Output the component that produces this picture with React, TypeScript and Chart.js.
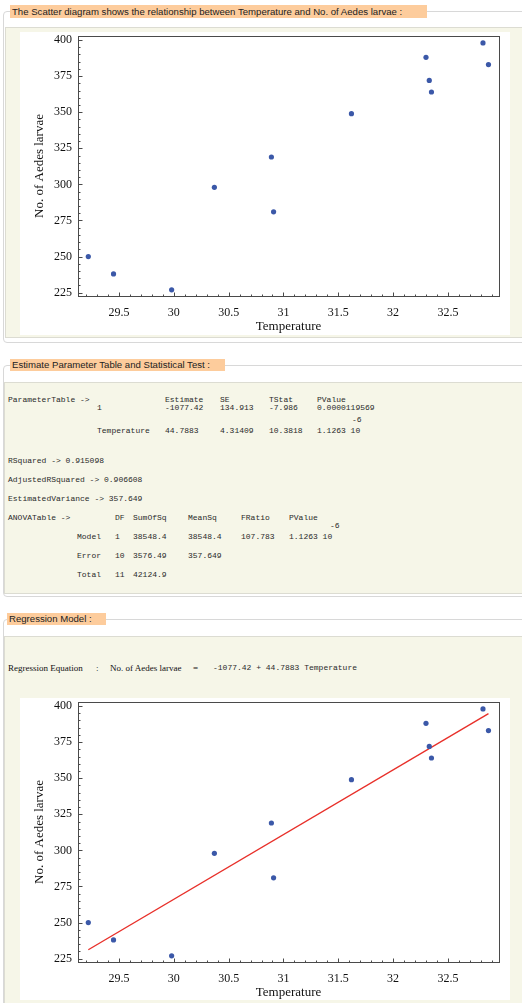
import React, { useEffect, useRef } from "react";
import { Chart, registerables } from "chart.js";

Chart.register(...registerables);

// ---- data ----
const TEMPERATURE = [29.22, 29.45, 29.98, 30.37, 30.89, 30.91, 31.62, 32.3, 32.33, 32.35, 32.82, 32.87];
const LARVAE = [250, 238, 227, 298, 319, 281, 349, 388, 372, 364, 398, 383];
const FIT_TEMP = [29.22, 32.87];
const FIT_LARVAE = [231.2, 394.8];

const X_TICKS = [29.5, 30, 30.5, 31, 31.5, 32, 32.5];
const Y_TICKS = [225, 250, 275, 300, 325, 350, 375, 400];
const X_MINOR = [29.2, 29.3, 29.4, 29.6, 29.7, 29.8, 29.9, 30.1, 30.2, 30.3, 30.4, 30.6, 30.7, 30.8, 30.9, 31.1, 31.2, 31.3, 31.4, 31.6, 31.7, 31.8, 31.9, 32.1, 32.2, 32.3, 32.4, 32.6, 32.7, 32.8, 32.9];
const Y_MINOR = [230, 235, 240, 245, 255, 260, 265, 270, 280, 285, 290, 295, 305, 310, 315, 320, 330, 335, 340, 345, 355, 360, 365, 370, 380, 385, 390, 395];

const X_TITLE = "Temperature";
const Y_TITLE = "No. of Aedes larvae";

const HEADING_1 = "The Scatter diagram shows the relationship between Temperature and No. of Aedes larvae :";
const HEADING_2 = "Estimate Parameter Table and Statistical Test :";
const HEADING_3 = "Regression Model :";

const PARAM_HEADER = ["Estimate", "SE", "TStat", "PValue"];
const PARAM_ROWS = [
  ["1", "-1077.42", "134.913", "-7.986", "0.0000119569"],
  ["Temperature", "44.7883", "4.31409", "10.3818", "1.1263 10"],
];
const STATS = ["RSquared -> 0.915098", "AdjustedRSquared -> 0.906608", "EstimatedVariance -> 357.649"];
const ANOVA_HEADER = ["DF", "SumOfSq", "MeanSq", "FRatio", "PValue"];
const ANOVA_ROWS = [
  ["Model", "1", "38548.4", "38548.4", "107.783", "1.1263 10"],
  ["Error", "10", "3576.49", "357.649"],
  ["Total", "11", "42124.9"],
];

// ---- styles ----
const BEIGE = "#f6f6e8";
const PEACH = "#fdcc9c";
const POINT_COLOR = "#3b58a8";
const LINE_COLOR = "#e8302a";
const MONO = "'Liberation Mono', 'Courier New', monospace";
const SERIF = "'Liberation Serif', 'Times New Roman', serif";
const SANS = "'Liberation Sans', Arial, sans-serif";

const framePlugin = {
  id: "frameTicks",
  beforeDatasetsDraw(chart: any) {
    const { ctx, chartArea, scales } = chart;
    const { left, right, top, bottom } = chartArea;
    const xs = scales.x;
    const ys = scales.y;
    ctx.save();
    ctx.strokeStyle = "#4a4a4a";
    ctx.lineWidth = 1;
    ctx.strokeRect(Math.round(left) + 0.5, Math.round(top) + 0.5, Math.round(right - left), Math.round(bottom - top));
    ctx.beginPath();
    const L = Math.round(left) + 0.5;
    const B = Math.round(bottom) + 0.5;
    X_TICKS.forEach((v) => {
      const px = Math.round(xs.getPixelForValue(v)) + 0.5;
      ctx.moveTo(px, B);
      ctx.lineTo(px, B - 4);
    });
    X_MINOR.forEach((v) => {
      const px = Math.round(xs.getPixelForValue(v)) + 0.5;
      ctx.moveTo(px, B);
      ctx.lineTo(px, B - 2);
    });
    Y_TICKS.forEach((v) => {
      const py = Math.round(ys.getPixelForValue(v)) + 0.5;
      ctx.moveTo(L, py);
      ctx.lineTo(L + 4, py);
    });
    Y_MINOR.forEach((v) => {
      const py = Math.round(ys.getPixelForValue(v)) + 0.5;
      ctx.moveTo(L, py);
      ctx.lineTo(L + 2, py);
    });
    ctx.stroke();
    ctx.restore();
  },
};

const zeroPadding = (s: any) => {
  s.paddingTop = 0;
  s.paddingBottom = 0;
  s.paddingLeft = 0;
  s.paddingRight = 0;
};

function ScatterChart({ withFit }: { withFit: boolean }) {
  const ref = useRef<HTMLCanvasElement>(null);
  useEffect(() => {
    const datasets: any[] = [
      {
        type: "scatter",
        data: TEMPERATURE.map((t, i) => ({ x: t, y: LARVAE[i] })),
        pointRadius: 2.6,
        pointBackgroundColor: POINT_COLOR,
        pointBorderWidth: 0,
        order: 0,
      },
    ];
    if (withFit) {
      datasets.push({
        type: "line",
        data: FIT_TEMP.map((t, i) => ({ x: t, y: FIT_LARVAE[i] })),
        borderColor: LINE_COLOR,
        borderWidth: 1.4,
        pointRadius: 0,
        fill: false,
        order: 1,
      });
    }
    const chart = new Chart(ref.current!, {
      type: "scatter",
      data: { datasets },
      options: {
        animation: false,
        responsive: false,
        devicePixelRatio: 1,
        layout: { autoPadding: false, padding: { left: 0, right: 11, top: 4, bottom: 0 } },
        plugins: { legend: { display: false }, tooltip: { enabled: false } },
        scales: {
          x: {
            type: "linear",
            min: 29.126,
            max: 32.966,
            afterBuildTicks: (s: any) => {
              s.ticks = X_TICKS.map((v) => ({ value: v }));
            },
            afterFit: (s: any) => {
              s.height = 39;
              zeroPadding(s);
            },
            grid: { display: false, drawTicks: false },
            border: { display: false },
            ticks: {
              padding: 10,
              color: "#111",
              font: { family: SERIF, size: 12 },
              maxRotation: 0,
              autoSkip: false,
              callback: (v: any) => String(v),
            },
            title: {
              display: true,
              text: X_TITLE,
              color: "#111",
              font: { family: SERIF, size: 13 },
              padding: { top: 0, bottom: 1 },
            },
          },
          y: {
            type: "linear",
            min: 222.7,
            max: 402.8,
            afterBuildTicks: (s: any) => {
              s.ticks = Y_TICKS.map((v) => ({ value: v }));
            },
            afterFit: (s: any) => {
              s.width = 58;
              zeroPadding(s);
            },
            grid: { display: false, drawTicks: false },
            border: { display: false },
            ticks: {
              padding: 6,
              color: "#111",
              font: { family: SERIF, size: 12 },
              autoSkip: false,
              callback: (v: any) => String(v),
            },
            title: {
              display: true,
              text: Y_TITLE,
              color: "#111",
              font: { family: SERIF, size: 13 },
              padding: { top: 12, bottom: 0 },
            },
          },
        },
      },
      plugins: [framePlugin],
    } as any);
    return () => chart.destroy();
  }, [withFit]);
  return <canvas ref={ref} width={490} height={303} style={{ display: "block", width: 490, height: 303 }} />;
}

function Abs({ x, y, h = 10, font, size, color = "#2a2a2a", children, style }: any) {
  return (
    <div
      style={{
        position: "absolute",
        left: x,
        top: y - h / 2,
        height: h,
        lineHeight: h + "px",
        fontFamily: font,
        fontSize: size,
        color,
        whiteSpace: "pre",
        ...style,
      }}
    >
      {children}
    </div>
  );
}

function Legend({ x, y, w, h, text }: any) {
  return (
    <div
      style={{
        position: "absolute",
        left: x,
        top: y,
        width: w,
        height: h,
        background: PEACH,
        fontFamily: SANS,
        fontSize: 9.6,
        lineHeight: h + "px",
        color: "#222",
        paddingLeft: 2,
        boxSizing: "border-box",
        whiteSpace: "pre",
      }}
    >
      {text}
    </div>
  );
}

function Box({ x, y, w, h, bg = "transparent", border = "1px solid #dadada", radius = 0 }: any) {
  return (
    <div
      style={{
        position: "absolute",
        left: x,
        top: y,
        width: w,
        height: h,
        background: bg,
        border,
        borderRadius: radius,
        boxSizing: "border-box",
      }}
    />
  );
}

const PARAM_COLS = [97, 165, 220, 269, 317];
const PARAM_Y = [400, 408, 431];
const STATS_Y = [461, 480, 499];
const ANOVA_COLS = [77, 115, 133, 188, 241, 289];
const ANOVA_HEADER_Y = 518;
const ANOVA_ROW_Y = [537, 556, 575];

export default function App() {
  return (
    <div style={{ position: "absolute", left: 0, top: 0, width: 522, height: 1003, overflow: "hidden", background: "#fff" }}>
      {/* Section 1 */}
      <Box x={3} y={11} w={540} h={332} border="1px solid #d8d8d8" radius={4} />
      <Box x={5} y={27} w={540} h={311} bg={BEIGE} border="1px solid #dcdcd2" />
      <Legend x={10} y={5} w={417} h={13} text={HEADING_1} />
      <div style={{ position: "absolute", left: 20, top: 32, width: 490, height: 303, background: "#fff" }}>
        <ScatterChart withFit={false} />
      </div>

      {/* Section 2 */}
      <Box x={3} y={365} w={540} h={232} border="1px solid #d8d8d8" radius={4} />
      <Box x={4} y={382} w={540} h={212} bg={BEIGE} border="1px solid #dcdcd2" />
      <Legend x={10} y={359} w={215} h={12} text={HEADING_2} />
      <Abs x={8} y={PARAM_Y[0]} font={MONO} size={8}>ParameterTable -&gt;</Abs>
      {PARAM_HEADER.map((t, i) => (
        <Abs key={"ph" + i} x={PARAM_COLS[i + 1]} y={PARAM_Y[0]} font={MONO} size={8}>{t}</Abs>
      ))}
      {PARAM_ROWS.map((row, r) =>
        row.map((t, i) => (
          <Abs key={"pr" + r + "-" + i} x={PARAM_COLS[i]} y={PARAM_Y[r + 1]} font={MONO} size={8}>{t}</Abs>
        ))
      )}
      <Abs x={352} y={420} font={MONO} size={8}>-6</Abs>
      {STATS.map((t, i) => (
        <Abs key={"st" + i} x={8} y={STATS_Y[i]} font={MONO} size={8}>{t}</Abs>
      ))}
      <Abs x={8} y={ANOVA_HEADER_Y} font={MONO} size={8}>ANOVATable -&gt;</Abs>
      {ANOVA_HEADER.map((t, i) => (
        <Abs key={"ah" + i} x={ANOVA_COLS[i + 1]} y={ANOVA_HEADER_Y} font={MONO} size={8}>{t}</Abs>
      ))}
      {ANOVA_ROWS.map((row, r) =>
        row.map((t, i) => (
          <Abs key={"ar" + r + "-" + i} x={ANOVA_COLS[i]} y={ANOVA_ROW_Y[r]} font={MONO} size={8}>{t}</Abs>
        ))
      )}
      <Abs x={330} y={526} font={MONO} size={8}>-6</Abs>

      {/* Section 3 */}
      <Box x={3} y={619} w={540} h={400} border="1px solid #d8d8d8" radius={4} />
      <Box x={4} y={636} w={540} h={380} bg={BEIGE} border="1px solid #dcdcd2" />
      <Legend x={7} y={613} w={99} h={12} text={HEADING_3} />
      <Abs x={8} y={668} font={SERIF} size={9} color="#111">Regression Equation</Abs>
      <Abs x={96} y={668} font={SERIF} size={9} color="#111">:</Abs>
      <Abs x={110} y={668} font={SERIF} size={9} color="#111">No. of Aedes larvae</Abs>
      <Abs x={193} y={668} font={SERIF} size={9} color="#111">=</Abs>
      <Abs x={213} y={668} font={MONO} size={8} color="#2a2a2a">-1077.42 + 44.7883 Temperature</Abs>
      <div style={{ position: "absolute", left: 20, top: 698, width: 490, height: 302, background: "#fff", overflow: "hidden" }}>
        <ScatterChart withFit={true} />
      </div>
    </div>
  );
}
